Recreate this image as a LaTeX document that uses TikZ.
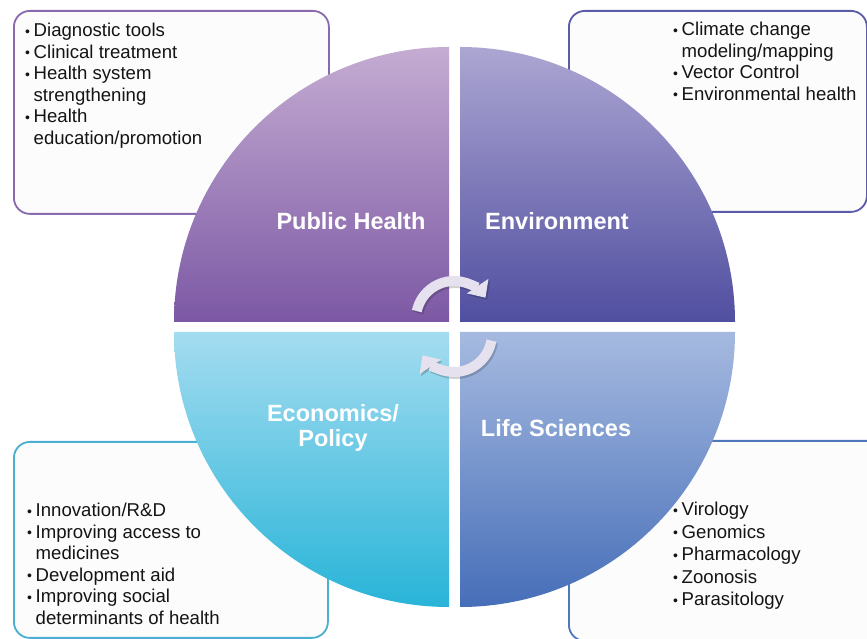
\documentclass[tikz,border=0pt]{standalone}
\usepackage{fontspec}
\setmainfont{Liberation Sans}
\usetikzlibrary{arrows.meta}
\definecolor{phTop}{RGB}{196,172,210}
\definecolor{phBot}{RGB}{124,88,164}
\definecolor{enTop}{RGB}{172,166,210}
\definecolor{enBot}{RGB}{80,78,160}
\definecolor{ecTop}{RGB}{164,220,240}
\definecolor{ecBot}{RGB}{40,180,216}
\definecolor{lsTop}{RGB}{166,186,224}
\definecolor{lsBot}{RGB}{70,110,184}
\definecolor{phLine}{RGB}{138,106,174}
\definecolor{enLine}{RGB}{92,91,168}
\definecolor{ecLine}{RGB}{74,175,208}
\definecolor{lsLine}{RGB}{79,119,188}
\definecolor{boxFill}{RGB}{252,252,252}
\definecolor{arrowFill}{RGB}{230,225,238}
\newcommand{\bl}{\makebox[8.5pt][l]{\fontsize{14}{14}\selectfont\raisebox{0.3pt}{•}}}
\newcommand{\hi}{\hspace*{8.5pt}}
\begin{document}
\begin{tikzpicture}[x=1pt,y=1pt,
  infobox/.style={draw, line width=1.8pt, fill=boxFill, rounded corners=16pt, anchor=north west, inner sep=0pt},
  listtext/.style={anchor=north west, inner sep=0pt, align=left, text=black!92, font=\fontsize{18.6}{21.5}\selectfont},
  quadlabel/.style={text=white, font=\bfseries\fontsize{23.5}{25}\selectfont, align=center, inner sep=0pt},
  cyc/.style={line width=10pt, draw=arrowFill, -{Triangle[width=25pt,length=14pt]}},
  cycshadow/.style={line width=10pt, draw=black, opacity=0.18, -{Triangle[width=25pt,length=14pt]}}]
\useasboundingbox (0,0) rectangle (867,639);
\fill[white] (0,0) rectangle (867,639);
% boxes
\node[infobox, draw=phLine, minimum width=315pt, minimum height=203pt] (tlbox) at (13,629) {};
\node[infobox, draw=enLine, minimum width=298pt, minimum height=201pt] (trbox) at (568,629) {};
\node[infobox, draw=ecLine, minimum width=314pt, minimum height=196pt] (blbox) at (13,198) {};
\node[infobox, draw=lsLine, minimum width=330pt, minimum height=200pt] (brbox) at (568,199) {};
% quadrants
\path[top color=phTop, bottom color=phBot] (449,317) -- (174,317) arc (180:90:275) -- cycle;
\path[top color=enTop, bottom color=enBot] (460,317) -- (735,317) arc (0:90:275) -- cycle;
\path[top color=ecTop, bottom color=ecBot] (449,307) -- (174,307) arc (180:270:275) -- cycle;
\path[top color=lsTop, bottom color=lsBot] (460,307) -- (735,307) arc (0:-90:275) -- cycle;
% labels
\node[quadlabel] (ph) at (351,418) {Public Health};
\node[quadlabel] (env) at (557,418) {Environment};
\node[quadlabel] (eco) at (333,211) {Economics/\\Policy};
\node[quadlabel] (life) at (556,211) {Life Sciences};
% cycle arrows
\coordinate (c1) at (454,320);
\coordinate (c2) at (454,305);
\draw[cycshadow] ([shift={(168:38)}]c1) ++(1.5,-2) arc (168:34:38);
\draw[cyc] ([shift={(168:38)}]c1) arc (168:34:38);
\draw[cycshadow] ([shift={(-10:38)}]c2) ++(1.5,-2) arc (-10:-146:38);
\draw[cyc] ([shift={(-10:38)}]c2) arc (-10:-146:38);
% lists
\node[listtext] (tltext) at (25,616) {\bl Diagnostic tools\\\bl Clinical treatment\\\bl Health system\\\hi strengthening\\\bl Health\\\hi education/promotion};
\node[listtext] (trtext) at (673,617) {\bl Climate change\\\hi modeling/mapping\\\bl Vector Control\\\bl Environmental health};
\node[listtext] (bltext) at (27,136) {\bl Innovation/R\&D\\\bl Improving access to\\\hi medicines\\\bl Development aid\\\bl Improving social\\\hi determinants of health};
\node[listtext, font=\fontsize{18.6}{22.5}\selectfont] (brtext) at (673,137) {\bl Virology\\\bl Genomics\\\bl Pharmacology\\\bl Zoonosis\\\bl Parasitology};
\end{tikzpicture}
\end{document}
